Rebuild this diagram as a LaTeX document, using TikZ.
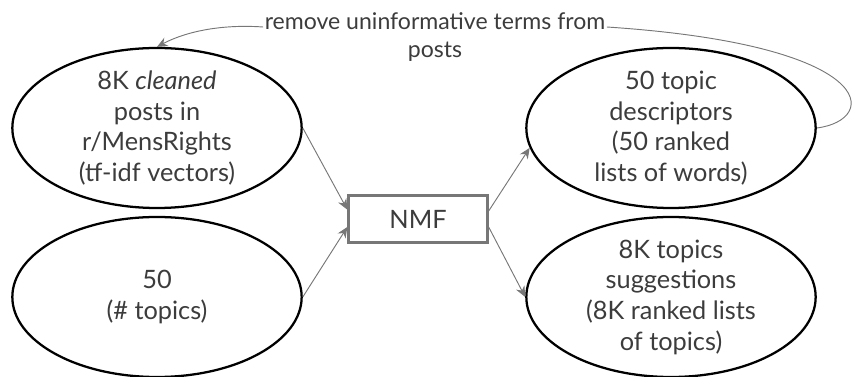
\documentclass[tikz,border=0pt]{standalone}
\usepackage{fontspec}
\setmainfont{Lato}
\usetikzlibrary{shapes.geometric,arrows.meta}
\definecolor{txtgray}{HTML}{3C3C3C}
\definecolor{arrgray}{HTML}{777777}
\begin{document}
\begin{tikzpicture}[x=0.75pt,y=-0.75pt,
  blob/.style={draw=black,line width=1.7pt,ellipse,minimum width=217pt,minimum height=120pt,inner xsep=0pt,inner ysep=-10pt,align=center,text=txtgray,font=\fontsize{19}{23}\selectfont},
  flow/.style={draw=arrgray,line width=0.7pt,-{Stealth[length=8pt,width=7pt]}}]
\useasboundingbox (0,0) rectangle (856,377);
\node(posts) [blob] at (157,128) {8K \textit{cleaned}\\posts in\\r/MensRights\\(tf-idf vectors)};
\node(ntopics) [blob] at (157,297) {50\\(\# topics)};
\node(nmf) [draw=arrgray,line width=2pt,minimum width=104pt,minimum height=35pt,text=txtgray,font=\fontsize{19}{23}\selectfont] at (418,219) {NMF};
\node(desc) [blob] at (671,128) {50 topic\\descriptors\\(50 ranked\\lists of words)};
\node(sugg) [blob] at (671,297) {8K topics\\suggestions\\(8K ranked lists\\of topics)};
\node(rmlabel) [align=center,text=txtgray,inner sep=1pt,font=\fontsize{17.3}{20.5}\selectfont] at (435,37) {remove uninformative terms from\\posts};
\draw[flow] (posts.east) -- ([yshift=7pt]nmf.west);
\draw[flow] (ntopics.east) -- ([yshift=-6pt]nmf.west);
\draw[flow] ([yshift=6pt]nmf.east) -- (desc.188);
\draw[flow] ([yshift=-6pt]nmf.east) -- (sugg.west);
\draw[draw=arrgray,line width=0.7pt] (desc.east) .. controls (880,120) and (880,45) .. ([yshift=7.5pt]rmlabel.east);
\draw[flow] ([yshift=7.5pt]rmlabel.west) .. controls (220,24) and (185,32) .. (posts.north);
\end{tikzpicture}
\end{document}
